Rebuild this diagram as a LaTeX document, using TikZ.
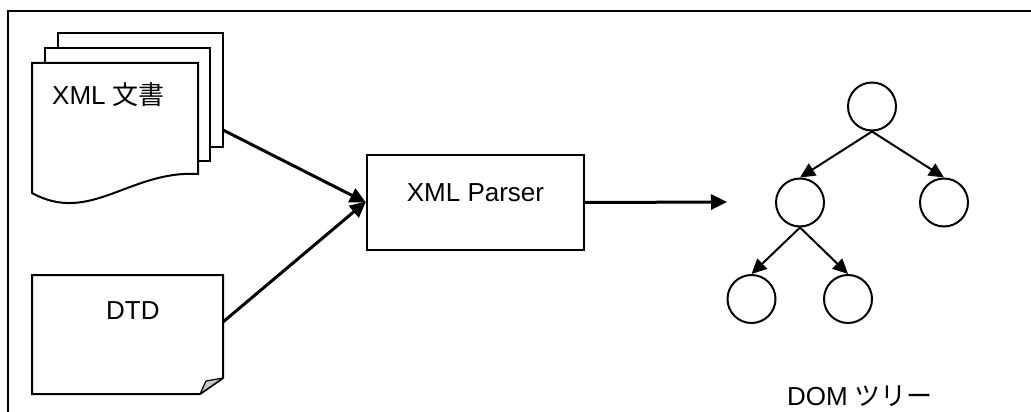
\documentclass[tikz,border=0pt]{standalone}
\usepackage{fontspec}
\setmainfont{Liberation Sans}
\newfontfamily\jp{Noto Sans CJK JP}
\usetikzlibrary{arrows.meta}

\begin{document}
\begin{tikzpicture}[x=1pt,y=-1pt,
  outline/.style={draw=black,line width=2pt,line join=miter},
  page/.style={outline,fill=white},
  bigtxt/.style={font=\fontsize{26}{30}\selectfont,inner sep=0pt,anchor=base west},
  flow/.style={draw=black,line width=3pt,-{Triangle[length=16pt,width=15pt]}},
  treeedge/.style={draw=black,line width=2pt,-{Triangle[length=15pt,width=14pt]}},
  treenode/.style={circle,outline,minimum size=48pt,inner sep=0pt},
  parserbox/.style={rectangle,outline,minimum width=217pt,minimum height=95pt,inner sep=0pt}]

\useasboundingbox (0,0) rectangle (1031,412);

% open frame: top and left edges only
\draw[line width=2pt] (8,412) -- (8,11) -- (1031,11);

% stack of XML documents
\draw[page] (58,33) rectangle (223,147);
\draw[page] (45,48) rectangle (210,161);
\draw[page] (32,63) -- (198,63) -- (198,174)
  .. controls (130,170) and (90,225) .. (32,193) -- cycle;
\node[bigtxt] (xmldoc) at (52,104) {XML {\jp 文書}};
\coordinate (docout) at (223,130);

% DTD sheet with folded corner
\draw[page] (32,275) -- (223,275) -- (223,378) -- (200,394) -- (32,394) -- cycle;
\filldraw[fill=black!22,draw=black,line width=1.2pt,line join=round]
  (200,394) .. controls (203,388) .. (206,381) -- (223,378) -- cycle;
\node[bigtxt] (dtd) at (106,319) {DTD};
\coordinate (dtdout) at (223,322);

% parser
\node[parserbox] (parser) at (475.5,202.5) {};
\node[bigtxt,anchor=base] (ptxt) at (475.5,201) {XML Parser};

% DOM tree
\node[treenode] (root) at (872,106.5) {};
\node[treenode] (lm) at (800,202.5) {};
\node[treenode] (rm) at (944,202.5) {};
\node[treenode] (bl) at (751.5,299) {};
\node[treenode] (br) at (848,299) {};
\node[bigtxt,anchor=base] (domtxt) at (860,405) {DOM {\jp ツリー}};
\coordinate (treein) at (727,202);

% connectors
\draw[flow] (docout) -- (parser.west);
\draw[flow] (dtdout) -- ([yshift=1pt]parser.west);
\draw[flow] (parser.east) -- (treein);
\draw[treeedge] (root.south) -- (lm.north);
\draw[treeedge] (root.south) -- (rm.north);
\draw[treeedge] (lm.south) -- (bl.north);
\draw[treeedge] (lm.south) -- (br.north);
\end{tikzpicture}
\end{document}
